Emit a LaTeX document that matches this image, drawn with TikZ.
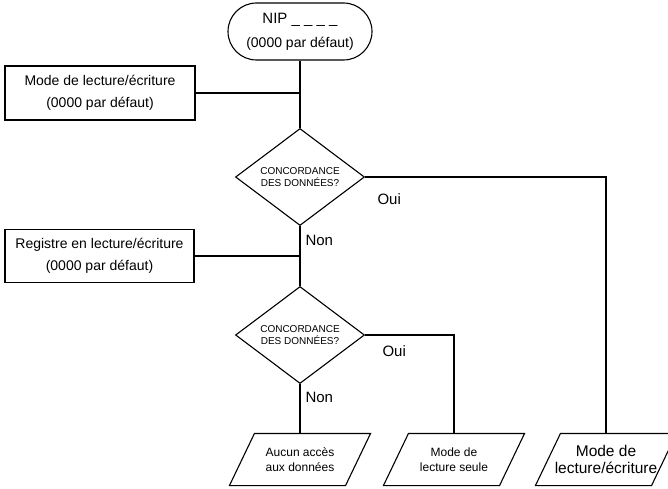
\documentclass[tikz,border=0pt]{standalone}
\usepackage{fontspec}
\setmainfont{Liberation Sans}
\usetikzlibrary{shapes.geometric,shapes.misc}
\begin{document}
\begin{tikzpicture}[x=1pt,y=1pt,line width=1.1pt,
  box/.style={draw,rectangle,align=center,inner sep=0pt,font=\fontsize{14}{22}\selectfont},
  decision/.style={draw,diamond,aspect=1.3,inner sep=0pt,minimum width=129pt,minimum height=97pt,align=center,font=\fontsize{10}{12}\selectfont},
  parabody/.style={minimum width=115pt,minimum height=51pt,inner sep=0pt,align=center},
  lbl/.style={anchor=west,inner sep=0pt,font=\fontsize{15}{18}\selectfont}]
\useasboundingbox (0,0) rectangle (668,488);
% terminal
\node[draw,rounded rectangle,minimum width=144pt,minimum height=57pt,inner sep=0pt,align=center,font=\fontsize{15}{24}\selectfont] (t) at (300,456.5)
  {NIP \_ \_ \_ \_\\{\fontsize{14}{24}\selectfont(0000 par défaut)}};
% boxes
\node[box,minimum width=190pt,minimum height=54pt] (b1) at (100,395) {Mode de lecture/écriture\\(0000 par défaut)};
\node[box,minimum width=189pt,minimum height=53pt] (b2) at (99.5,232) {Registre en lecture/écriture\\(0000 par défaut)};
% decisions
\node[decision] (d1) at (300,311) {CONCORDANCE\\DES DONNÉES?};
\node[decision] (d2) at (300,153) {CONCORDANCE\\DES DONNÉES?};
% outputs
\node[parabody,font=\fontsize{12}{15}\selectfont] (p1) at (300,28.5) {Aucun accès\\aux données};
\node[parabody,font=\fontsize{12}{15}\selectfont] (p2) at (454,28.5) {Mode de\\lecture seule};
\node[parabody,font=\fontsize{15.5}{17}\selectfont] (p3) at (606,28.5) {Mode de\\lecture/écriture};
\foreach \p in {p1,p2,p3}{
  \draw ([xshift=-12.5pt]\p.south west) -- ([xshift=-12.5pt]\p.south east)
     -- ([xshift=12.5pt]\p.north east) -- ([xshift=12.5pt]\p.north west) -- cycle;
}
% labels
\node[lbl] (oui1) at (377,289) {Oui};
\node[lbl] (non1) at (305,248) {Non};
\node[lbl] (oui2) at (382,137) {Oui};
\node[lbl] (non2) at (305,91) {Non};
% connectors
\draw (t.south) -- (d1.north);
\draw (b1.east) -- (b1.east -| d1.north);
\draw (d1.south) -- (d2.north);
\draw (b2.east) -- (b2.east -| d2.north);
\draw (d2.south) -- (p1.north);
\draw (d2.east) -| (p2.north);
\draw (d1.east) -| (p3.north);
\end{tikzpicture}
\end{document}
